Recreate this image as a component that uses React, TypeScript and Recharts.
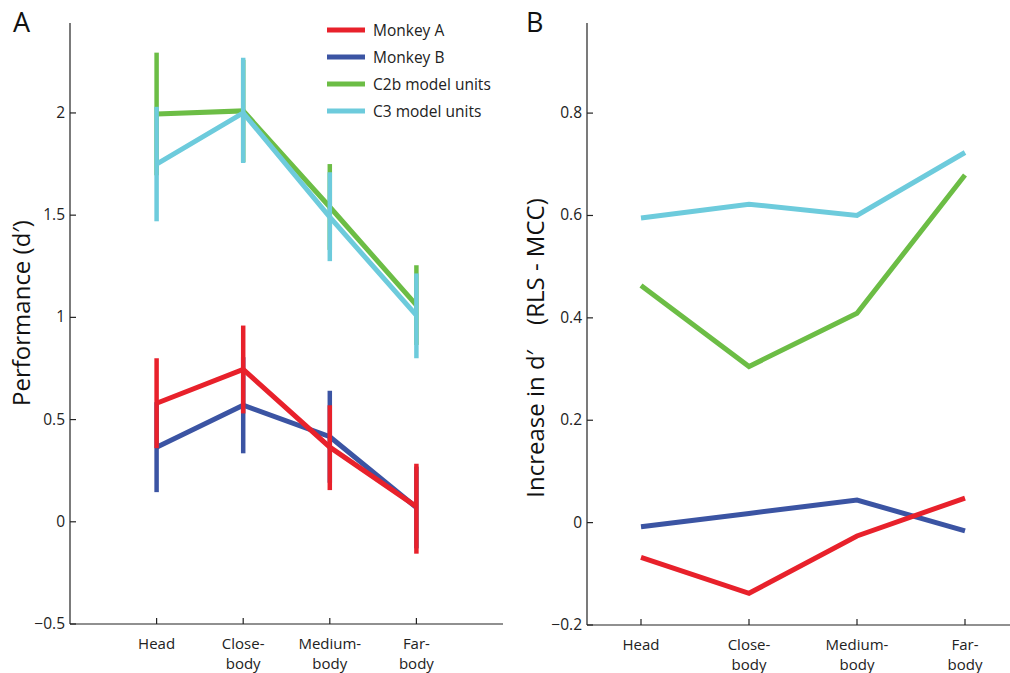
import React from 'react';
import { LineChart, Line, XAxis, YAxis, ErrorBar, Legend } from 'recharts';

const categories = ['Head', 'Close-\nbody', 'Medium-\nbody', 'Far-\nbody'];
const positions = [1, 2, 3, 4];

// Panel A: performance (d')
const monkeyA = [0.58, 0.745, 0.365, 0.074];
const monkeyAErr = [[0.22, 0.22], [0.215, 0.215], [0.21, 0.205], [0.23, 0.21]];
const monkeyB = [0.365, 0.57, 0.416, 0.07];
const monkeyBErr = [[0.22, 0.22], [0.235, 0.235], [0.225, 0.225], [0.2, 0.2]];
const c2b = [1.995, 2.01, 1.54, 1.06];
const c2bErr = [[0.3, 0.3], [0.25, 0.25], [0.21, 0.21], [0.195, 0.195]];
const c3 = [1.75, 2.0, 1.49, 1.01];
const c3Err = [[0.28, 0.28], [0.245, 0.27], [0.215, 0.22], [0.21, 0.205]];

// Panel B: increase in d' (RLS - MCC)
const incMonkeyA = [-0.068, -0.138, -0.026, 0.048];
const incMonkeyB = [-0.008, 0.018, 0.044, -0.016];
const incC2b = [0.463, 0.305, 0.409, 0.679];
const incC3 = [0.595, 0.622, 0.6, 0.723];

const ticksA = [-0.5, 0, 0.5, 1, 1.5, 2];
const ticksB = [-0.2, 0, 0.2, 0.4, 0.6, 0.8];

const legendNames = ['Monkey A', 'Monkey B', 'C2b model units', 'C3 model units'];
const colors = { a: '#e8212b', b: '#3b54a3', c2b: '#6cbd45', c3: '#6dcbdc' };
const legendColors = [colors.a, colors.b, colors.c2b, colors.c3];

const dataA = positions.map((x, i) => ({
  x,
  a: monkeyA[i], aErr: monkeyAErr[i],
  b: monkeyB[i], bErr: monkeyBErr[i],
  c2b: c2b[i], c2bErr: c2bErr[i],
  c3: c3[i], c3Err: c3Err[i],
}));

const dataB = positions.map((x, i) => ({
  x,
  a: incMonkeyA[i],
  b: incMonkeyB[i],
  c2b: incC2b[i],
  c3: incC3[i],
}));

const FONT = '"Open Sans", "Noto Sans", sans-serif';
const AXIS = '#222';

const fmt = (v: number) => (v < 0 ? '\u2212' + String(Math.abs(v)) : String(v));

const XTick = (props: any) => {
  const { x, y, payload } = props;
  const label = categories[Math.round(payload.value) - 1] || '';
  const lines = label.split('\n');
  return (
    <g>
      <line x1={x} x2={x} y1={y} y2={y - 6} stroke={AXIS} strokeWidth={1.2} />
      {lines.map((l: string, i: number) => (
        <text key={i} x={x} y={y + 25 + i * 20} textAnchor="middle" fontSize={15} fontFamily={FONT} fill="#222">
          {l}
        </text>
      ))}
    </g>
  );
};

const YTick = (props: any) => {
  const { x, y, payload } = props;
  return (
    <g>
      <line x1={x} x2={x + 6} y1={y} y2={y} stroke={AXIS} strokeWidth={1.2} />
      <text x={x - 5} y={y + 5} textAnchor="end" fontSize={15.5} fontFamily={FONT} fill="#222">
        {fmt(payload.value)}
      </text>
    </g>
  );
};

const renderLegend = () => (
  <div style={{ fontFamily: FONT, fontSize: 15.5, color: '#222', textAlign: 'left' }}>
    {legendNames.map((n, i) => (
      <div key={n} style={{ display: 'flex', alignItems: 'center', height: 27 }}>
        <svg width={38} height={6} style={{ display: 'block' }}>
          <line x1={0} x2={38} y1={3} y2={3} stroke={legendColors[i]} strokeWidth={5} />
        </svg>
        <span style={{ marginLeft: 8, whiteSpace: 'nowrap' }}>{n}</span>
      </div>
    ))}
  </div>
);

const LW = 5;
const EW = 4.5;

export default function App() {
  return (
    <div style={{ position: 'absolute', left: 0, top: 0, width: 1010, height: 673, overflow: 'hidden', background: '#fff' }}>
      <div style={{ position: 'absolute', left: 0, top: 0 }}>
        <LineChart width={520} height={673} data={dataA} margin={{ top: 23, right: 17, bottom: 0, left: 10 }}>
          <XAxis
            dataKey="x" type="number" domain={[0, 5]} ticks={positions} height={49}
            tickSize={0} tickMargin={0} tickLine={false} tick={<XTick />}
            axisLine={{ stroke: AXIS, strokeWidth: 1.2 }} interval={0}
          />
          <YAxis
            type="number" domain={[-0.5, 2.44]} ticks={ticksA} width={60} allowDataOverflow
            tickSize={0} tickMargin={0} tickLine={false} tick={<YTick />}
            axisLine={{ stroke: AXIS, strokeWidth: 1.2 }} interval={0}
          />
          <Legend
            content={renderLegend}
            layout="horizontal" verticalAlign="middle" align="center"
            wrapperStyle={{ position: 'absolute', left: 327, top: 16, width: 190, height: 110 }}
          />
          <Line dataKey="c2b" stroke={colors.c2b} strokeWidth={LW} dot={false} activeDot={false} isAnimationActive={false} legendType="none">
            <ErrorBar dataKey="c2bErr" width={0} stroke={colors.c2b} strokeWidth={EW} direction="y" isAnimationActive={false} />
          </Line>
          <Line dataKey="c3" stroke={colors.c3} strokeWidth={LW} dot={false} activeDot={false} isAnimationActive={false} legendType="none">
            <ErrorBar dataKey="c3Err" width={0} stroke={colors.c3} strokeWidth={EW} direction="y" isAnimationActive={false} />
          </Line>
          <Line dataKey="b" stroke={colors.b} strokeWidth={LW} dot={false} activeDot={false} isAnimationActive={false} legendType="none">
            <ErrorBar dataKey="bErr" width={0} stroke={colors.b} strokeWidth={EW} direction="y" isAnimationActive={false} />
          </Line>
          <Line dataKey="a" stroke={colors.a} strokeWidth={LW} dot={false} activeDot={false} isAnimationActive={false} legendType="none">
            <ErrorBar dataKey="aErr" width={0} stroke={colors.a} strokeWidth={EW} direction="y" isAnimationActive={false} />
          </Line>
        </LineChart>
      </div>
      <div style={{ position: 'absolute', left: 520, top: 0 }}>
        <LineChart width={520} height={673} data={dataB} margin={{ top: 23, right: 21, bottom: 0, left: 7 }}>
          <XAxis
            dataKey="x" type="number" domain={[0.5, 4.5]} ticks={positions} height={48}
            tickSize={0} tickMargin={0} tickLine={false} tick={<XTick />}
            axisLine={{ stroke: AXIS, strokeWidth: 1.2 }} interval={0}
          />
          <YAxis
            type="number" domain={[-0.2, 0.976]} ticks={ticksB} width={60} allowDataOverflow
            tickSize={0} tickMargin={0} tickLine={false} tick={<YTick />}
            axisLine={{ stroke: AXIS, strokeWidth: 1.2 }} interval={0}
          />
          <Line dataKey="c3" stroke={colors.c3} strokeWidth={LW} dot={false} activeDot={false} isAnimationActive={false} />
          <Line dataKey="c2b" stroke={colors.c2b} strokeWidth={LW} dot={false} activeDot={false} isAnimationActive={false} />
          <Line dataKey="b" stroke={colors.b} strokeWidth={LW} dot={false} activeDot={false} isAnimationActive={false} />
          <Line dataKey="a" stroke={colors.a} strokeWidth={LW} dot={false} activeDot={false} isAnimationActive={false} />
        </LineChart>
      </div>
      <svg width={1010} height={673} style={{ position: 'absolute', left: 0, top: 0, pointerEvents: 'none' }}>
        <text x={13} y={32} fontSize={27} fontFamily={FONT} fill="#111">A</text>
        <text x={526} y={32} fontSize={27} fontFamily={FONT} fill="#111">B</text>
        <text x={30} y={313} transform="rotate(-90, 30, 313)" textAnchor="middle" fontSize={24} fontFamily={FONT} fill="#111">
          Performance (d′)
        </text>
        <text x={544} y={348} transform="rotate(-90, 544, 348)" textAnchor="middle" fontSize={24} fontFamily={FONT} fill="#111" style={{ whiteSpace: 'pre' }}>
          {'Increase in d′    (RLS - MCC)'}
        </text>
      </svg>
    </div>
  );
}
